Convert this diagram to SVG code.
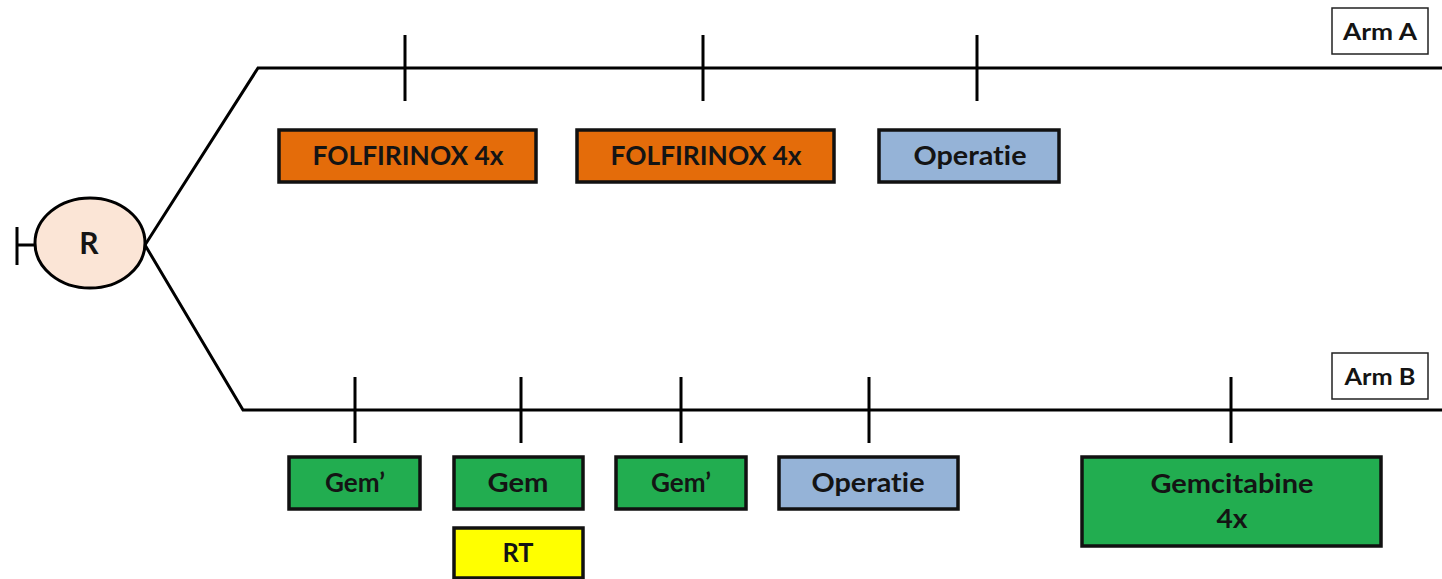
<svg xmlns="http://www.w3.org/2000/svg" width="1442" height="579" viewBox="0 0 1442 579">
<style>
.ln{stroke:#000;stroke-width:3;fill:none}
.box{stroke:#111;stroke-width:3.5}
.t{font-family:Lato,"Open Sans","Liberation Sans",sans-serif;font-weight:bold;font-size:26px;fill:#141414;text-anchor:middle;font-variant-ligatures:none;font-feature-settings:"liga" 0}
.lab{fill:#fff;stroke:#222;stroke-width:1.5}
.orange{fill:#E46C0A}
.blue{fill:#95B3D7}
.green{fill:#22AD50}
.yellow{fill:#FFFF00}
</style>
<rect width="1442" height="579" fill="#fff"/>
<g id="connectors">
<path class="ln" d="M17 227V265M17 245H35"/>
<path class="ln" d="M145 245L258 68H1442"/>
<path class="ln" d="M145 245L243 410H1442"/>
<path class="ln" d="M405 35V101M703 35V101M977 35V101"/>
<path class="ln" d="M355 377V443M521 377V443M681 377V443M869 377V443M1231 377V443"/>
</g>
<g id="R">
<ellipse cx="90" cy="243" rx="55" ry="45" fill="#FBE5D6" stroke="#000" stroke-width="3"/>
<text class="t" x="89" y="254" style="font-size:30px">R</text>
</g>
<g id="armA">
<rect class="lab" x="1332" y="8" width="96" height="46"/>
<text class="t" x="1380" y="40" style="font-size:23px" textLength="74" lengthAdjust="spacingAndGlyphs">Arm A</text>
</g>
<g id="armB">
<rect class="lab" x="1332" y="353" width="96" height="46"/>
<text class="t" x="1380" y="385" style="font-size:23px" textLength="71" lengthAdjust="spacingAndGlyphs">Arm B</text>
</g>
<g id="folfirinox1">
<rect class="box orange" x="279" y="130" width="257" height="52"/>
<text class="t" x="408" y="165" textLength="191" lengthAdjust="spacingAndGlyphs">FOLFIRINOX 4x</text>
</g>
<g id="folfirinox2">
<rect class="box orange" x="577" y="130" width="257" height="52"/>
<text class="t" x="706" y="165" textLength="191" lengthAdjust="spacingAndGlyphs">FOLFIRINOX 4x</text>
</g>
<g id="operatieA">
<rect class="box blue" x="879" y="130" width="180" height="52"/>
<text class="t" x="970" y="165" textLength="113" lengthAdjust="spacingAndGlyphs">Operatie</text>
</g>
<g id="gem1">
<rect class="box green" x="289" y="457" width="131" height="52"/>
<text class="t" x="355" y="492" textLength="60" lengthAdjust="spacingAndGlyphs">Gem’</text>
</g>
<g id="gem2">
<rect class="box green" x="454" y="457" width="129" height="52"/>
<text class="t" x="518" y="492" textLength="61" lengthAdjust="spacingAndGlyphs">Gem</text>
</g>
<g id="rt">
<rect class="box yellow" x="454" y="528" width="129" height="50"/>
<text class="t" x="518" y="562" textLength="31" lengthAdjust="spacingAndGlyphs">RT</text>
</g>
<g id="gem3">
<rect class="box green" x="616" y="457" width="130" height="52"/>
<text class="t" x="681" y="492" textLength="60" lengthAdjust="spacingAndGlyphs">Gem’</text>
</g>
<g id="operatieB">
<rect class="box blue" x="779" y="457" width="179" height="52"/>
<text class="t" x="868" y="492" textLength="113" lengthAdjust="spacingAndGlyphs">Operatie</text>
</g>
<g id="gemcitabine">
<rect class="box green" x="1082" y="457" width="299" height="89"/>
<text class="t" x="1232" y="493" textLength="163" lengthAdjust="spacingAndGlyphs">Gemcitabine</text>
<text class="t" x="1232" y="528" textLength="31" lengthAdjust="spacingAndGlyphs">4x</text>
</g>
</svg>
